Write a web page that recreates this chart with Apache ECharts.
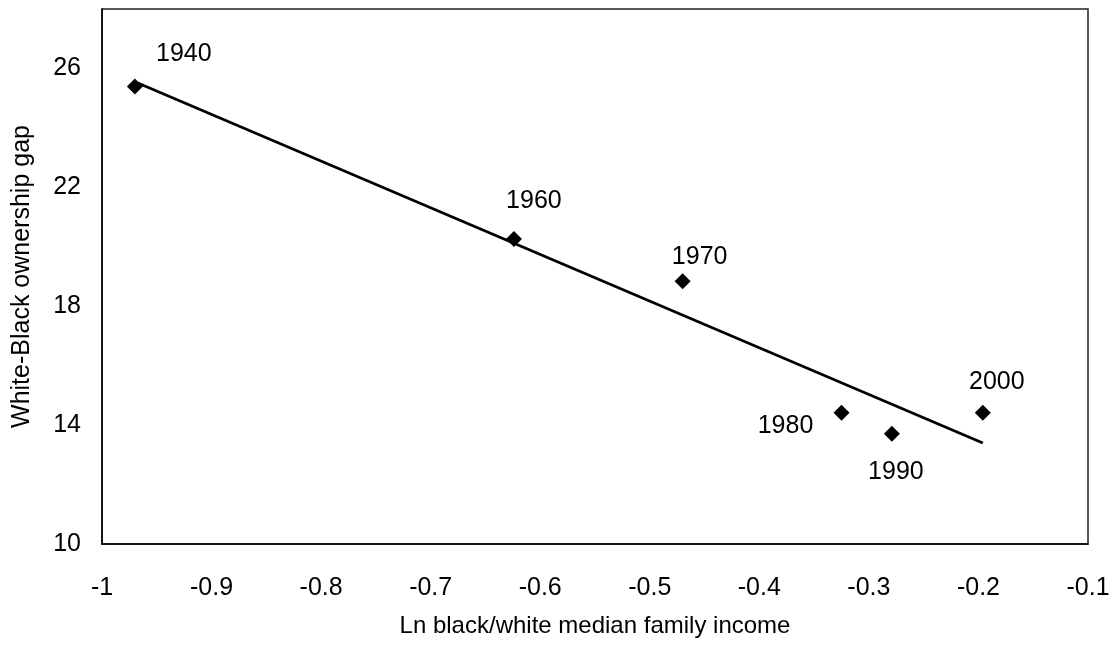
<!DOCTYPE html>
<html>
<head>
<meta charset="utf-8">
<script src="https://cdn.jsdelivr.net/npm/echarts@6/dist/echarts.min.js"></script>
<style>
html,body{margin:0;padding:0;background:#fff;}
#chart{width:1115px;height:649px;}
</style>
</head>
<body>
<div id="chart"></div>
<script>
// Data
var years = ['1940', '1960', '1970', '1980', '1990', '2000'];
var lnIncomeRatio = [-0.970, -0.624, -0.470, -0.325, -0.279, -0.196];
var ownershipGap = [25.39, 20.26, 18.84, 14.42, 13.71, 14.42];
// Fitted trend line end points
var trendX = [-0.970, -0.196];
var trendY = [25.55, 13.40];
var yTickLabels = [10, 14, 18, 22, 26];
var xAxisTitle = 'Ln black/white median family income';
var yAxisTitle = 'White-Black ownership gap';

// Label placement (layout only)
var labelOffsets = [[49, -32], [20, -38], [17, -24], [-56, 13], [4, 38], [14, -31]];

var font = 'Arial, "Liberation Sans", sans-serif';
var chart = echarts.init(document.getElementById('chart'), null, {renderer: 'canvas'});

var scatterData = years.map(function (y, i) {
  return {
    value: [lnIncomeRatio[i], ownershipGap[i]],
    name: y,
    label: {offset: labelOffsets[i]}
  };
});

var option = {
  animation: false,
  backgroundColor: '#fff',
  grid: {
    left: 102, right: 27, top: 9, bottom: 105,
    show: true, borderColor: '#222', borderWidth: 1.5, backgroundColor: 'transparent'
  },
  xAxis: {
    type: 'value', min: -1, max: -0.1, interval: 0.1,
    name: xAxisTitle, nameLocation: 'middle', nameGap: 70,
    nameTextStyle: {color: '#000', fontSize: 24, fontFamily: font},
    axisLine: {show: true, lineStyle: {color: '#000', width: 1.5}},
    axisTick: {show: false},
    splitLine: {show: false},
    axisLabel: {
      color: '#000', fontSize: 25, fontFamily: font, margin: 32,
      formatter: function (v) { return String(Math.round(v * 10) / 10); }
    }
  },
  yAxis: {
    type: 'value', min: 10, max: 28, interval: 2,
    name: yAxisTitle, nameLocation: 'middle', nameGap: 67,
    nameTextStyle: {color: '#000', fontSize: 25, fontFamily: font},
    axisLine: {show: true, lineStyle: {color: '#000', width: 1.5}},
    axisTick: {show: false},
    splitLine: {show: false},
    axisLabel: {
      color: '#000', fontSize: 25, fontFamily: font, margin: 21,
      formatter: function (v) {
        return yTickLabels.indexOf(Math.round(v)) >= 0 && Math.abs(v - Math.round(v)) < 1e-6 ? String(Math.round(v)) : '';
      }
    }
  },
  series: [
    {
      type: 'line',
      data: [[trendX[0], trendY[0]], [trendX[1], trendY[1]]],
      showSymbol: false,
      symbol: 'none',
      lineStyle: {color: '#000', width: 2.8},
      z: 2,
      silent: true
    },
    {
      type: 'scatter',
      data: scatterData,
      symbol: 'diamond',
      symbolSize: 16,
      itemStyle: {color: '#000', opacity: 1},
      z: 3,
      label: {
        show: true,
        position: 'inside',
        formatter: function (p) { return p.name; },
        color: '#000', fontSize: 25, fontFamily: font,
        align: 'center', verticalAlign: 'middle'
      }
    }
  ]
};
chart.setOption(option);
</script>
</body>
</html>
